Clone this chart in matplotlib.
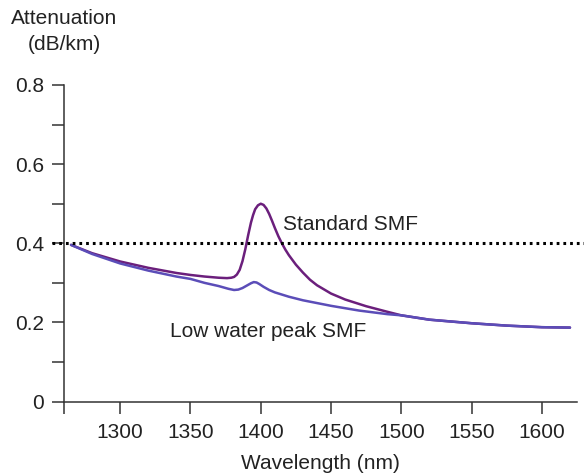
import matplotlib
matplotlib.use("Agg")
import matplotlib.pyplot as plt

plt.rcParams['font.family'] = ['Liberation Sans', 'DejaVu Sans']

std_wl = [1265, 1280, 1300, 1320, 1340, 1350, 1360, 1370, 1376, 1379, 1381, 1383, 1385, 1387,
          1389, 1391, 1393, 1394.5, 1396, 1398, 1400, 1402, 1404, 1406, 1408, 1410, 1412.5,
          1415, 1417.5, 1420, 1425, 1430, 1435, 1440, 1450, 1460, 1475, 1490,
          1500, 1520, 1550, 1575, 1600, 1620]
std_att = [0.396, 0.375, 0.354, 0.338, 0.325, 0.320, 0.316, 0.313, 0.312, 0.313, 0.315, 0.321,
           0.333, 0.355, 0.385, 0.420, 0.452, 0.471, 0.486, 0.496, 0.500, 0.497, 0.488, 0.474,
           0.457, 0.439, 0.418, 0.400, 0.384, 0.370, 0.346, 0.326, 0.308, 0.294,
           0.273, 0.258, 0.241, 0.227, 0.218, 0.207, 0.198, 0.192, 0.188, 0.187]

low_wl = [1265, 1280, 1300, 1320, 1340, 1350, 1360, 1370, 1377, 1381, 1384, 1387, 1390, 1393,
          1395, 1397, 1399, 1402, 1406, 1410, 1420, 1430, 1450, 1470, 1490, 1500, 1520, 1550,
          1575, 1600, 1620]
low_att = [0.396, 0.373, 0.349, 0.331, 0.316, 0.310, 0.300, 0.292, 0.285, 0.282, 0.283, 0.287,
           0.293, 0.299, 0.302, 0.301, 0.297, 0.290, 0.282, 0.276, 0.265, 0.256, 0.242, 0.230,
           0.221, 0.218, 0.207, 0.198, 0.192, 0.188, 0.187]

ref_level = 0.4
x_ticks = [1300, 1350, 1400, 1450, 1500, 1550, 1600]
y_ticks = [0, 0.2, 0.4, 0.6, 0.8]

fig = plt.figure(figsize=(5.84, 4.75), dpi=100)
ax = fig.add_axes([64/584, 1-401.6/475, (577-64)/584, (401.6-85)/475])

ax.plot(std_wl, std_att, color='#6B1F7C', lw=1.8, solid_capstyle='round', solid_joinstyle='round')
ax.plot(low_wl, low_att, color='#5B4DB8', lw=1.8, solid_capstyle='round', solid_joinstyle='round')
ax.plot([1251.5, 1631], [ref_level, ref_level], color='black', lw=2.2,
        linestyle=(0, (0.9, 1.3)), dash_capstyle='butt', clip_on=False)

ax.text(1416, 0.448, 'Standard SMF', fontsize=15, color='#222222', va='center', ha='left')
ax.text(1335.5, 0.176, 'Low water peak SMF', fontsize=15, color='#222222', va='center', ha='left')

ax.set_xlim(1260, 1625)
ax.set_ylim(0, 0.8)
ax.set_xticks([1260] + x_ticks)
ax.set_xticklabels([''] + [str(t) for t in x_ticks])
ax.set_yticks([0, 0.1, 0.2, 0.3, 0.4, 0.5, 0.6, 0.7, 0.8])
ax.set_yticklabels(['0', '', '0.2', '', '0.4', '', '0.6', '', '0.8'])

for s in ['top', 'right']:
    ax.spines[s].set_visible(False)
for s in ['left', 'bottom']:
    ax.spines[s].set_color('#333333')
    ax.spines[s].set_linewidth(1.1)
ax.tick_params(axis='both', direction='out', length=8.5, width=1.1, color='#333333',
               labelsize=15, labelcolor='#222222')
ax.tick_params(axis='y', pad=6)
ax.tick_params(axis='x', pad=7)

fig.text(64/584, 1-18/475, 'Attenuation', fontsize=15, ha='center', va='center', color='#222222')
fig.text(64/584, 1-45/475, '(dB/km)', fontsize=15, ha='center', va='center', color='#222222')
ax.set_xlabel('Wavelength (nm)', fontsize=15, color='#222222', labelpad=8.5)

fig.savefig('out.png', dpi=100)
